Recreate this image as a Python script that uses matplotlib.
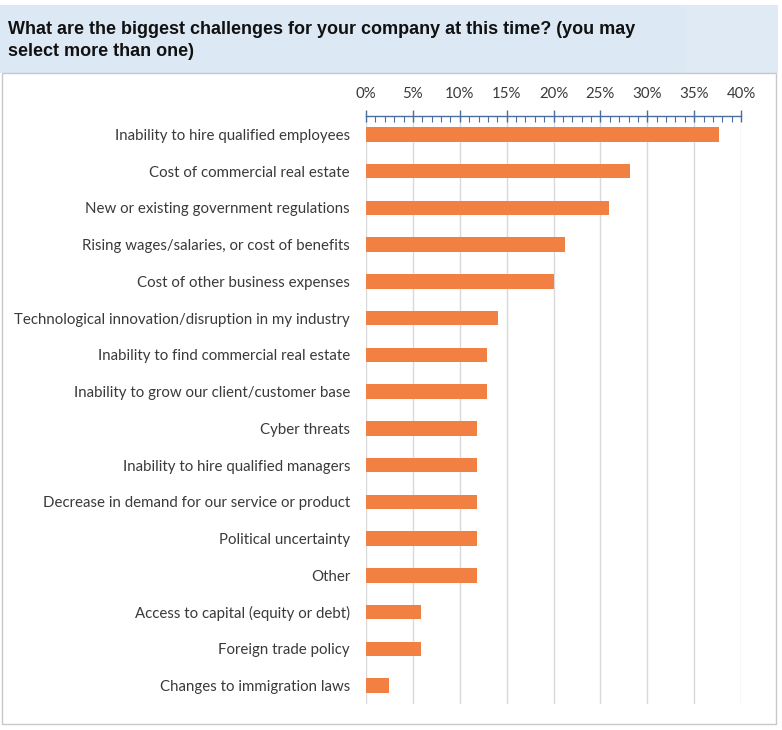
import matplotlib
matplotlib.use("Agg")
import matplotlib.pyplot as plt
from matplotlib.patches import Rectangle
from matplotlib.ticker import MultipleLocator, FuncFormatter

categories = [
    "Inability to hire qualified employees",
    "Cost of commercial real estate",
    "New or existing government regulations",
    "Rising wages/salaries, or cost of benefits",
    "Cost of other business expenses",
    "Technological innovation/disruption in my industry",
    "Inability to find commercial real estate",
    "Inability to grow our client/customer base",
    "Cyber threats",
    "Inability to hire qualified managers",
    "Decrease in demand for our service or product",
    "Political uncertainty",
    "Other",
    "Access to capital (equity or debt)",
    "Foreign trade policy",
    "Changes to immigration laws",
]
values = [37.6, 28.2, 25.9, 21.2, 20.0, 14.1, 12.9, 12.9, 11.8, 11.8, 11.8, 11.8, 11.8, 5.9, 5.9, 2.4]
tick_values = [0, 5, 10, 15, 20, 25, 30, 35, 40]
title_lines = ["What are the biggest challenges for your company at this time? (you may",
               "select more than one)"]

W, H = 782, 730
fig = plt.figure(figsize=(W / 100, H / 100), dpi=100)
fig.patch.set_facecolor("white")

def fx(x):
    return x / W

def fy(y):
    return 1 - y / H

# header band
fig.patches.append(Rectangle((fx(0), fy(73)), fx(686), 68 / H, transform=fig.transFigure,
                             facecolor="#DCE8F4", edgecolor="none", zorder=-3))
fig.patches.append(Rectangle((fx(686), fy(73)), fx(92), 68 / H, transform=fig.transFigure,
                             facecolor="#DFEAF5", edgecolor="none", zorder=-3))
# chart box
fig.patches.append(Rectangle((fx(2), fy(724)), fx(774), 651 / H, transform=fig.transFigure,
                             facecolor="white", edgecolor="#C8C8C8", linewidth=1, zorder=-2))

for i, line in enumerate(title_lines):
    fig.text(fx(8), fy(29 + 23 * i), line, fontsize=12.95, fontweight="bold", color="#111111",
             family="Liberation Sans", ha="left", va="center")

ax = fig.add_axes([fx(366), fy(704), fx(741) - fx(366), (704 - 116) / H])
ax.set_zorder(5)
ax.set_facecolor("none")
y = list(range(len(categories)))
ax.barh(y, values, height=0.39, color="#F28042", zorder=3)
ax.set_ylim(len(categories) - 0.5, -0.5)
ax.set_xlim(0, 40)

ax.xaxis.tick_top()
ax.set_xticks(tick_values)
ax.xaxis.set_major_formatter(FuncFormatter(lambda v, p: f"{v:.0f}%"))
ax.xaxis.set_minor_locator(MultipleLocator(1))
axis_color = "#4A6E9C"
ax.tick_params(axis="x", which="major", direction="inout", length=8, width=1,
               color=axis_color, labelsize=10.8, labelcolor="#3A3A3A", pad=7)
ax.tick_params(axis="x", which="minor", direction="in", length=4, width=0.8, color=axis_color)
ax.set_yticks(y)
ax.set_yticklabels(categories)
ax.tick_params(axis="y", length=0, labelsize=10.8, labelcolor="#3A3A3A", pad=11.5)
for lab in ax.get_xticklabels() + ax.get_yticklabels():
    lab.set_family("Lato")

ax.grid(axis="x", which="major", color="#D9D9D9", linewidth=1, zorder=0)
ax.grid(axis="y", visible=False)
for s in ["bottom", "left", "right"]:
    ax.spines[s].set_visible(False)
ax.spines["top"].set_color(axis_color)
ax.spines["top"].set_linewidth(1)

fig.savefig("out.png", dpi=100, facecolor="white")
